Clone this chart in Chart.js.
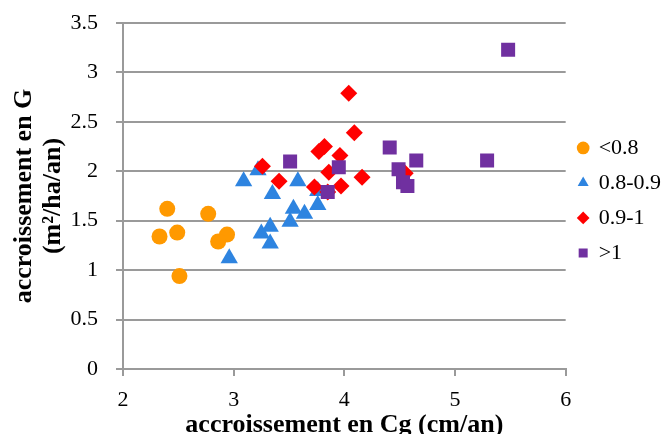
<!DOCTYPE html>
<html>
<head>
<meta charset="utf-8">
<script src="https://cdn.jsdelivr.net/npm/chart.js@4/dist/chart.umd.min.js"></script>
<style>
  html, body { margin: 0; padding: 0; background: #ffffff; }
  #wrap { width: 664px; height: 434px; }
</style>
</head>
<body>
<div id="wrap"><canvas id="c" width="664" height="434"></canvas></div>
<script>
// Series names (legend)
const categories = ['<0.8', '0.8-0.9', '0.9-1', '>1'];

// <0.8
const xLt08 = [2.40, 2.77, 2.33, 2.49, 2.94, 2.86, 2.51];
const yLt08 = [1.62, 1.57, 1.34, 1.38, 1.36, 1.29, 0.94];

// 0.8-0.9
const x08to09 = [2.96, 3.09, 3.22, 3.35, 3.58, 3.76, 3.76, 3.54, 3.64, 3.51, 3.25, 3.33, 3.33];
const y08to09 = [1.12, 1.90, 2.01, 1.77, 1.90, 1.80, 1.66, 1.62, 1.57, 1.49, 1.37, 1.44, 1.27];

// 0.9-1
const x09to1 = [3.26, 3.41, 3.73, 3.77, 3.82, 3.96, 4.04, 4.09, 3.86, 3.97, 4.16, 3.85, 4.55];
const y09to1 = [2.05, 1.90, 1.84, 2.20, 2.25, 2.16, 2.79, 2.39, 1.99, 1.85, 1.94, 1.79, 1.98];

// >1
const xGt1 = [3.51, 3.95, 3.85, 4.41, 4.65, 4.49, 4.53, 4.57, 5.29, 5.48];
const yGt1 = [2.10, 2.04, 1.79, 2.24, 2.11, 2.02, 1.89, 1.85, 2.11, 3.23];

// Tick labels
const xTickLabels = ['2', '3', '4', '5', '6'];
const yTickLabels = ['0', '0.5', '1', '1.5', '2', '2.5', '3', '3.5'];

const xTitle = 'accroissement en Cg (cm/an)';
const yTitle = ['accroissement en G', '(m²/ha/an)'];

function pts(xs, ys) { return xs.map((x, i) => ({ x: x, y: ys[i] })); }

Chart.defaults.color = '#000000';
Chart.defaults.font.family = '"Liberation Serif", "Times New Roman", serif';

const serif = '"Liberation Serif", "Times New Roman", serif';

new Chart(document.getElementById('c'), {
  type: 'scatter',
  data: {
    datasets: [
      { label: categories[0], data: pts(xLt08, yLt08), pointStyle: 'circle', pointRadius: 8,
        backgroundColor: '#FF9900', borderColor: '#FF9900', borderWidth: 0, order: 4 },
      { label: categories[1], data: pts(x08to09, y08to09), pointStyle: 'triangle', pointRadius: 10,
        backgroundColor: '#2E84E0', borderColor: '#2E84E0', borderWidth: 0, order: 3 },
      { label: categories[2], data: pts(x09to1, y09to1), pointStyle: 'rectRot', pointRadius: 8.5,
        backgroundColor: '#FF0000', borderColor: '#FF0000', borderWidth: 0, order: 2 },
      { label: categories[3], data: pts(xGt1, yGt1), pointStyle: 'rect', pointRadius: 9.9,
        backgroundColor: '#7030A0', borderColor: '#7030A0', borderWidth: 0, order: 1 }
    ]
  },
  options: {
    responsive: false,
    animation: false,
    devicePixelRatio: 1,
    layout: { padding: { top: 23, left: 0, right: -7, bottom: 0 } },
    plugins: {
      tooltip: { enabled: false },
      legend: {
        position: 'right',
        align: 'center',
        fullSize: false,
        title: { display: true, text: ' ', font: { size: 4, lineHeight: 1.2 }, padding: 2 },
        labels: {
          usePointStyle: true,
          boxWidth: 9,
          boxHeight: 9,
          padding: 13,
          color: '#000000',
          font: { family: serif, size: 22, lineHeight: 1.2 },
          sort: (a, b) => a.datasetIndex - b.datasetIndex
        }
      }
    },
    scales: {
      x: {
        type: 'linear',
        min: 2, max: 6,
        afterFit: (s) => { s.height = 65; },
        border: { display: true, color: '#9a9a9a', width: 2 },
        grid: { display: true, drawOnChartArea: false, drawTicks: true, tickLength: 7, color: '#9a9a9a', lineWidth: 2 },
        ticks: {
          stepSize: 1,
          padding: 11,
          color: '#000000',
          font: { family: serif, size: 22 },
          callback: (v) => { const i = Math.round(v - 2); return xTickLabels[i] !== undefined && Math.abs(v - 2 - i) < 1e-6 ? xTickLabels[i] : ''; }
        },
        title: { display: true, text: xTitle, color: '#000000', font: { family: serif, size: 26, weight: 'bold', lineHeight: 1.1 }, padding: { top: 0, bottom: -6 } }
      },
      y: {
        type: 'linear',
        min: 0, max: 3.5,
        afterFit: (s) => { s.width = 123; s.paddingTop = 0; s.paddingBottom = 0; },
        border: { display: true, color: '#9a9a9a', width: 2 },
        grid: { display: true, drawOnChartArea: true, drawTicks: true, tickLength: 7, color: '#9a9a9a', lineWidth: 2 },
        ticks: {
          stepSize: 0.5,
          padding: 18,
          color: '#000000',
          font: { family: serif, size: 22 },
          callback: (v) => { const i = Math.round(v / 0.5); return Math.abs(v - i * 0.5) < 1e-6 ? yTickLabels[i] : ''; }
        },
        title: { display: true, text: yTitle, color: '#000000', font: { family: serif, size: 26, weight: 'bold', lineHeight: 1.1 }, padding: { top: 10, bottom: 0 } }
      }
    }
  }
});
</script>
</body>
</html>
